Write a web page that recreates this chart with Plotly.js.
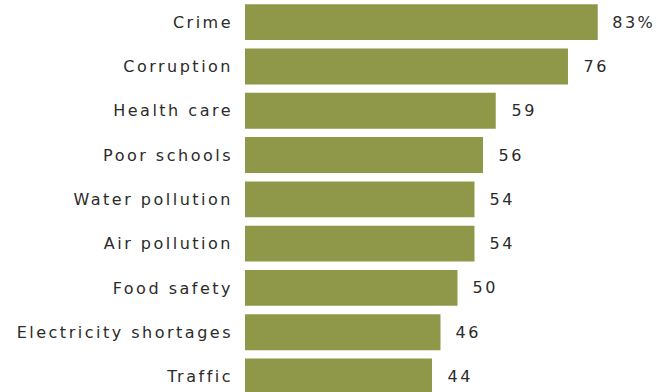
<!DOCTYPE html>
<html>
<head>
<meta charset="utf-8">
<script src="https://cdn.plot.ly/plotly-3.0.1.min.js"></script>
<style>
html,body{margin:0;padding:0;background:#fff;}
#chart{width:667px;height:392px;}
#chart .ytick text, #chart .annotation-text{letter-spacing:2.5px;}
</style>
</head>
<body>
<div id="chart"></div>
<script>
const categories = ["Crime","Corruption","Health care","Poor schools","Water pollution","Air pollution","Food safety","Electricity shortages","Traffic"];
const values = [83,76,59,56,54,54,50,46,44];
const valueLabels = ["83%","76","59","56","54","54","50","46","44"];

const barColor = "#8e9848";
const textColor = "#2b2b2b";
const fontFamily = "DejaVu Sans, Verdana, sans-serif";

const trace = {
  type: "bar",
  orientation: "h",
  x: values,
  y: categories,
  marker: {color: barColor},
  hoverinfo: "none"
};

const annotations = categories.map((c, i) => ({
  x: values[i],
  y: c,
  xref: "x",
  yref: "y",
  text: valueLabels[i],
  showarrow: false,
  xanchor: "left",
  yanchor: "middle",
  xshift: 16,
  font: {family: fontFamily, size: 16, color: textColor}
}));

const layout = {
  width: 667,
  height: 392,
  margin: {l: 245, r: 0, t: 0, b: 0},
  paper_bgcolor: "#ffffff",
  plot_bgcolor: "#ffffff",
  showlegend: false,
  bargap: 0.19,
  xaxis: {
    range: [0, 99.3],
    showgrid: false,
    zeroline: false,
    showticklabels: false,
    showline: false,
    ticks: ""
  },
  yaxis: {
    type: "category",
    categoryorder: "array",
    categoryarray: categories,
    range: [8.35, -0.5],
    showgrid: false,
    zeroline: false,
    showline: false,
    ticks: "",
    ticklabelstandoff: 11,
    tickfont: {family: fontFamily, size: 16, color: textColor}
  },
  annotations: annotations
};

Plotly.newPlot("chart", [trace], layout, {displayModeBar: false, staticPlot: true});
</script>
</body>
</html>
